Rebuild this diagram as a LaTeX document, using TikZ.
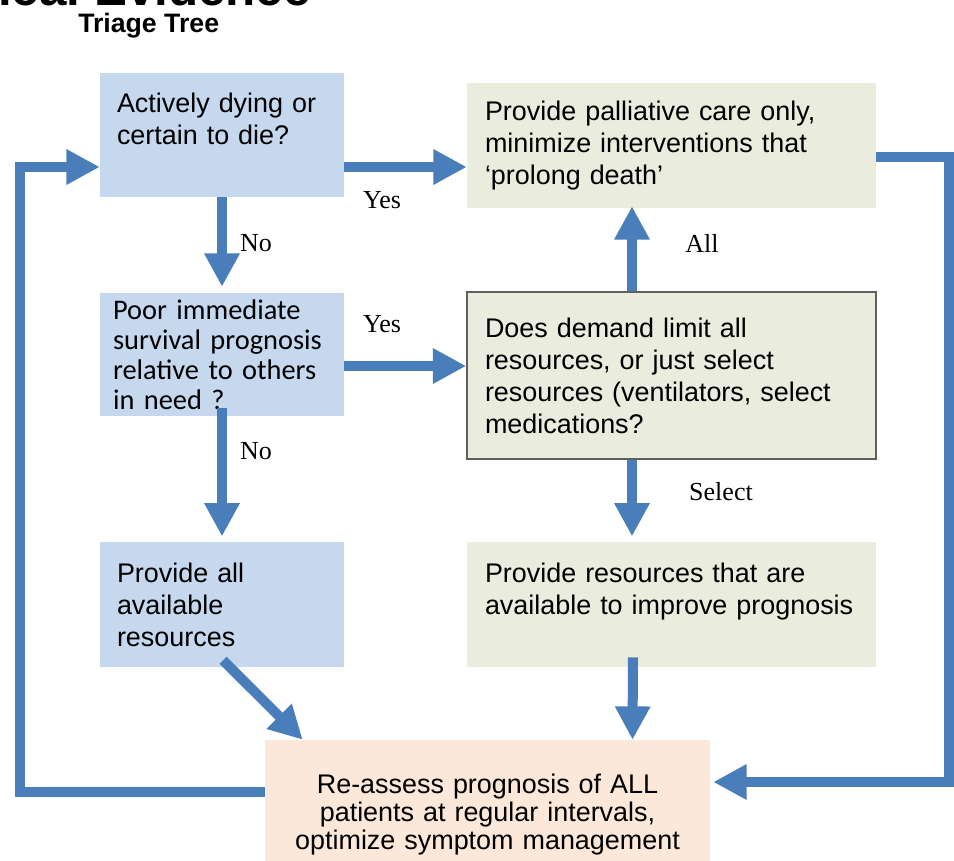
\documentclass[tikz,border=0pt]{standalone}
\usepackage{fontspec}
\setmainfont{Liberation Sans}
\newfontfamily\calfont{Carlito}
\newfontfamily\labfont{Liberation Serif}
\usetikzlibrary{arrows.meta,calc}
\definecolor{boxblue}{RGB}{197,216,238}
\definecolor{boxolive}{RGB}{234,236,222}
\definecolor{boxpeach}{RGB}{252,232,217}
\definecolor{flowblue}{RGB}{74,126,187}
\definecolor{framegray}{RGB}{95,95,95}
\tikzset{
  qbox/.style={fill=boxblue, minimum width=183pt, minimum height=93pt, inner xsep=12.75pt, inner ysep=0pt, text width=157.5pt, align=left, font=\fontsize{20.2}{24}\selectfont},
  abox/.style={fill=boxolive, minimum width=306.75pt, minimum height=93.75pt, inner xsep=13.5pt, inner ysep=0pt, text width=279.75pt, align=left, font=\fontsize{20.2}{24}\selectfont},
  flow/.style={draw=flowblue, line width=7.5pt, -{Triangle[length=25pt,width=25pt]}},
  answer/.style={font=\labfont\fontsize{19.5}{22}\selectfont, inner sep=0pt}
}
\begin{document}
\begin{tikzpicture}[x=0.75pt,y=0.75pt,yscale=-1,xscale=1]
        \useasboundingbox (0,0) rectangle (954,861);
        \clip (0,0) rectangle (954,861);
        \fill[white] (0,0) rectangle (954,861);
        % Title
        \draw (-2,5) node [anchor=base west, inner sep=0pt, font=\bfseries\fontsize{37}{40}\selectfont] (heading) {ical Evidence};
        \draw (78,32) node [anchor=base west, inner sep=0pt, font=\bfseries\fontsize{20}{22}\selectfont] (treetitle) {Triage Tree};
        % Question Nodes
        \draw (222,135) node [qbox] (dying) {Actively dying or\\certain to die?\\~};
        \draw (222,354.5) node [qbox, inner xsep=9.75pt, text width=163.5pt, minimum height=92.25pt, font=\calfont\fontsize{21.3}{22.5}\selectfont] (poor) {Poor immediate\\survival prognosis\\relative to others\\in need ?};
        \draw (222,604.5) node [qbox, minimum height=93.75pt] (allres) {Provide all\\available\\resources};
        % Action Nodes
        \draw (671.5,145.5) node [abox] (palliative) {Provide palliative care only,\\minimize interventions that\\‘prolong death’};
        \draw (671.5,375.5) node [abox, draw=framegray, line width=1.2pt, minimum height=125.25pt] (demand) {Does demand limit all\\resources, or just select\\resources (ventilators, select\\medications?};
        \draw (671.5,604.5) node [abox] (selres) {Provide resources that are\\available to improve prognosis\\~};
        % Reassess Node
        \draw (487.5,815) node [fill=boxpeach, minimum width=333.75pt, minimum height=112.5pt, inner sep=0pt, text width=320pt, align=center, font=\fontsize{20.2}{21}\selectfont] (reassess) {Re-assess prognosis of ALL\\patients at regular intervals,\\optimize symptom management};
        % Connection
        \draw [flow] ($(dying.east)+(0,32)$) -- ($(palliative.west)+(0,21.5)$);
        \draw [flow, shorten >=4.5pt] (dying.south) -- (poor.north);
        \draw [flow] ($(poor.east)+(0,11.5)$) -- ($(demand.west)+(0,-9.5)$);
        \draw [flow, shorten >=4pt] ($(poor.south)+(0,-8)$) -- (allres.north);
        \draw [flow] ($(demand.north)+(-39.5,0)$) -- ($(palliative.south)+(-39.5,-2)$);
        \draw [flow, shorten >=4pt] ($(demand.south)+(-39.5,0)$) -- ($(selres.north)+(-39.5,0)$);
        \draw [flow] ($(selres.south)+(-38.5,-10)$) -- ($(reassess.north)+(145,0)$);
        \draw [flow] ($(allres.south)+(1,-7)$) -- ($(reassess.north west)+(38,0)$);
        % Loops
        \coordinate (lbot) at (20,792);
        \coordinate (ltop) at (20,167);
        \coordinate (rtop) at (949,157);
        \coordinate (rbot) at (949,782);
        \draw [flow] ($(reassess.west)+(0,-23)$) -- (lbot) -- (ltop) -- ($(dying.west)+(0,32)$);
        \draw [flow] ($(palliative.east)+(0,11.5)$) -- (rtop) -- (rbot) -- ($(reassess.east)+(3,-33)$);
        % Answers
        \draw (382,200) node [answer] (yes1) {Yes};
        \draw (256,243) node [answer] (no1) {No};
        \draw (382,324) node [answer] (yes2) {Yes};
        \draw (256,451) node [answer] (no2) {No};
        \draw (702,243) node [answer] (allans) {All};
        \draw (721,492) node [answer] (selans) {Select};
\end{tikzpicture}
\end{document}
